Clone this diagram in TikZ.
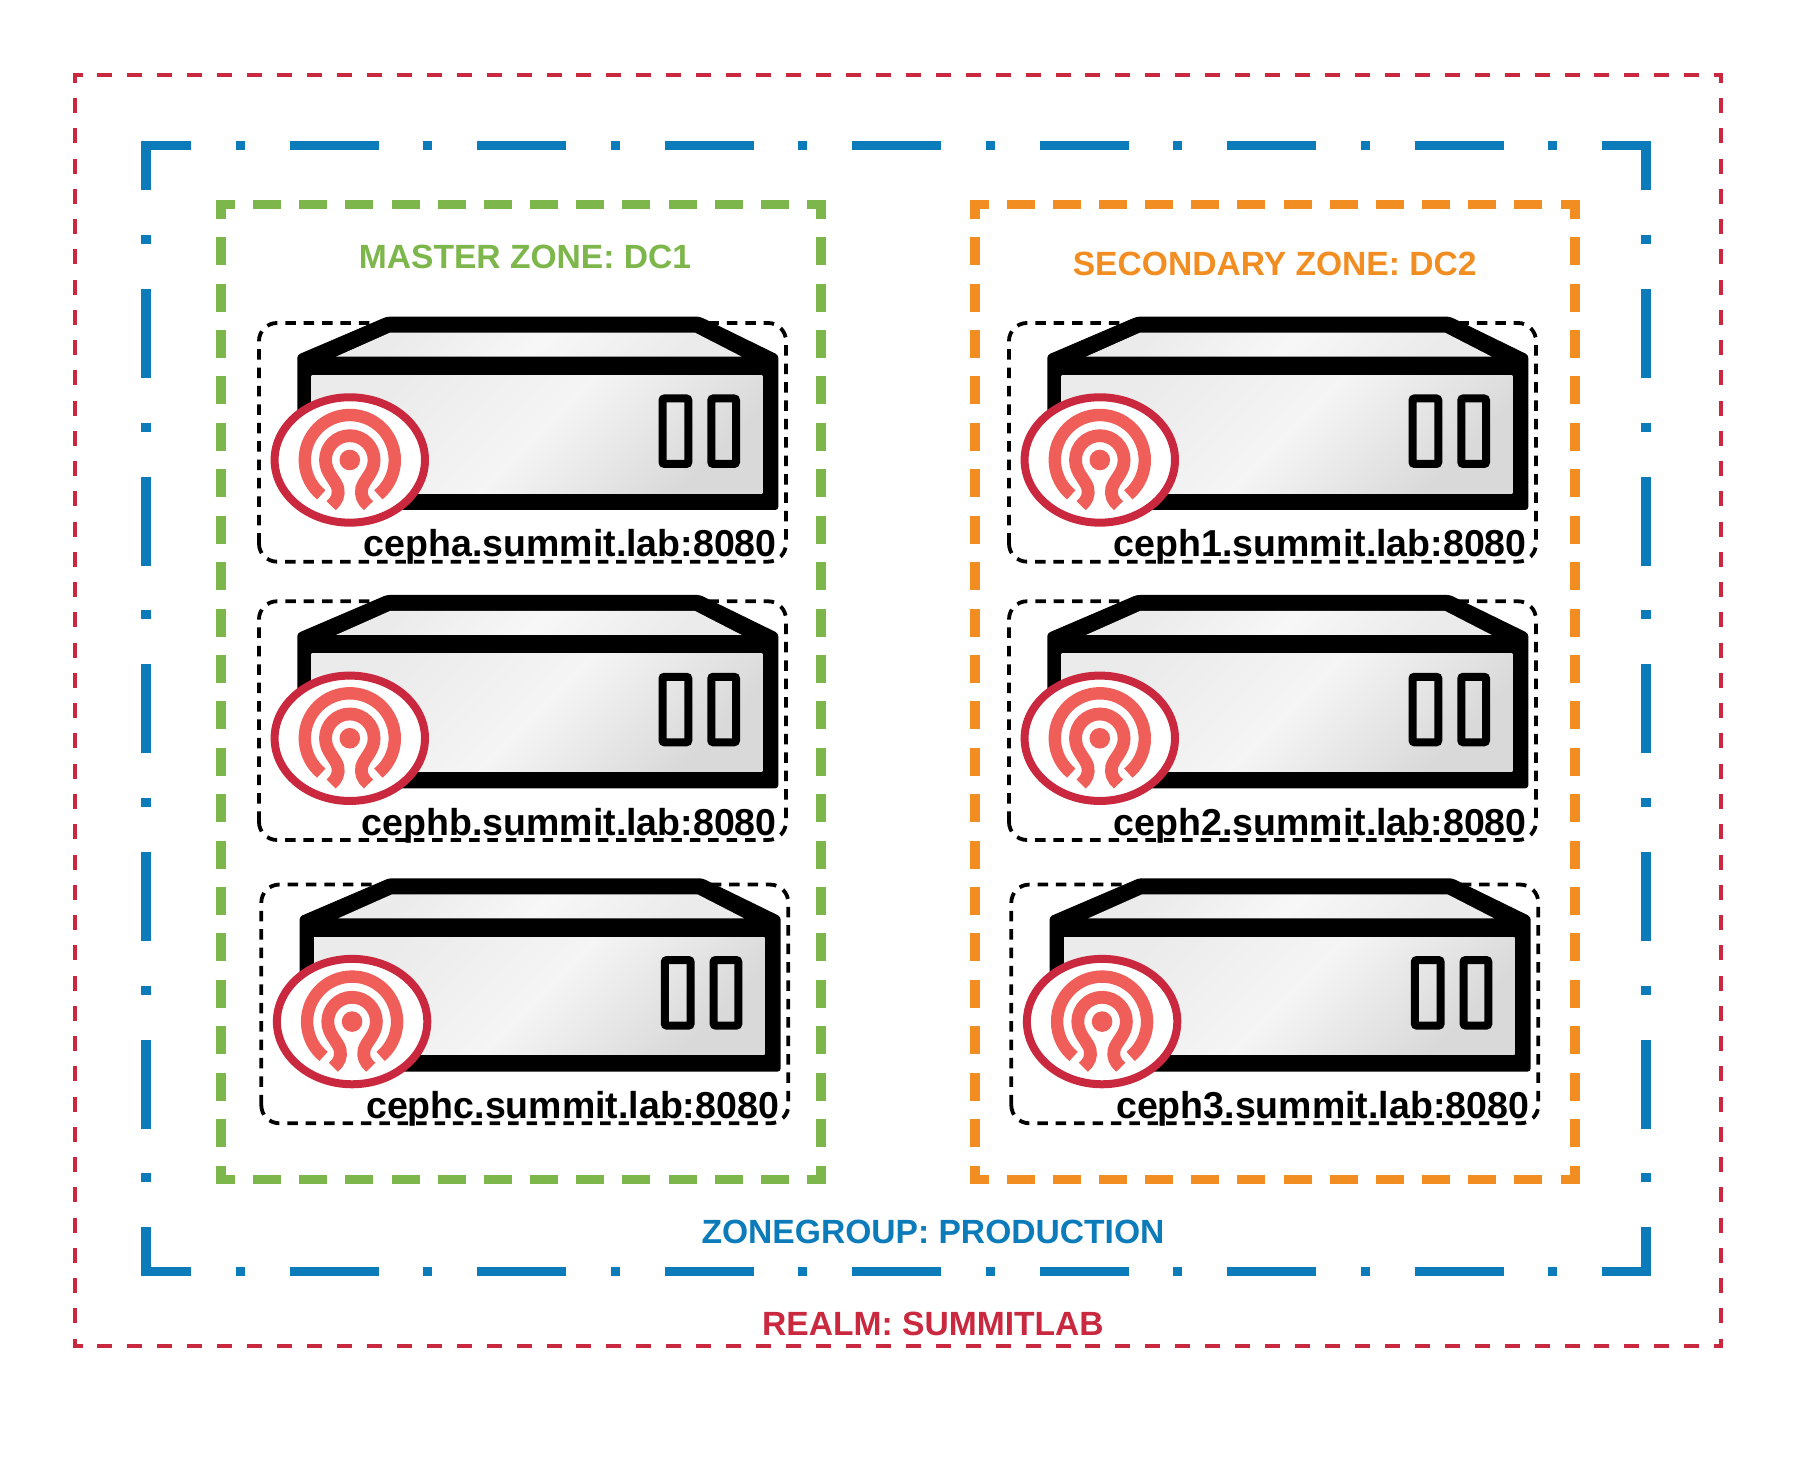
\documentclass[tikz,border=0pt]{standalone}
\usepackage{fontspec}
\setmainfont{Liberation Sans}
\definecolor{realmred}{HTML}{C9283E}
\definecolor{groupblue}{HTML}{0C7BBA}
\definecolor{zonegreen}{HTML}{7DB64A}
\definecolor{zoneorange}{HTML}{F28D22}
\definecolor{cephsalmon}{HTML}{F05E59}
\begin{document}
\begin{tikzpicture}[x=0.5pt,y=0.5pt,
  realmh/.style={realmred,line width=2pt,dash pattern=on 7.5pt off 7.47pt,dash phase=2.75pt},
  realmv/.style={realmred,line width=2pt,dash pattern=on 7.5pt off 7.63pt,dash phase=2.75pt},
  grouph/.style={groupblue,line width=4.5pt,dash pattern=on 44.5pt off 22.4pt on 4.5pt off 22.35pt,dash phase=19.5pt},
  groupv/.style={groupblue,line width=5pt,dash pattern=on 44.5pt off 22.42pt on 4.5pt off 22.41pt,dash phase=19.75pt},
  zoneh/.style={line width=4.5pt,dash pattern=on 14pt off 9.08pt,dash phase=4.5pt},
  zonev/.style={line width=5pt,dash pattern=on 14pt off 9.21pt,dash phase=4.5pt},
  zonelabel/.style={anchor=base,inner sep=0pt,font=\fontsize{16.8}{20}\selectfont\bfseries},
  hostlabel/.style={anchor=base east,inner sep=0pt,font=\fontsize{18.75}{22}\selectfont\bfseries},
  server/.pic={
    \draw[line width=1.9pt,dash pattern=on 5.25pt off 3.95pt,rounded corners=9pt] (0,0) rectangle (527,238.7);
    \fill[rounded corners=1.5pt] (38.3,51.7)--(38.3,206.7)--(127.7,245)--(441,245)--(519.3,206.7)--(519.3,51.7)--cycle;
    \shade[left color=black!8,right color=black!8,middle color=black!3,shading angle=45] (77,205)--(131,229)--(436,229)--(482.7,205)--cycle;
    \shade[left color=black!8,right color=black!15,middle color=black!4,shading angle=45] (52.7,68.4) rectangle (503.3,186);
    \draw[line width=4pt,rounded corners=1pt] (403.5,97.7) rectangle (429.3,163.2);
    \draw[line width=4pt,rounded corners=1pt] (452.3,97.7) rectangle (477,163.2);
    \begin{scope}[shift={(90.8,101.7)}]
      \draw[realmred,fill=white,line width=4pt] (0,0) ellipse [x radius=75.2,y radius=62.7];
      \fill[cephsalmon] (0,0) circle [radius=10.3];
      \draw[cephsalmon,line width=6.2pt] (230.7:45) arc [start angle=230.7,end angle=-50.7,radius=45];
      \draw[cephsalmon,line width=6.4pt] (-18.7,-45.7) .. controls (-13,-41) and (-10.5,-35) .. (-12,-28.3)
        .. controls (-14,-20) and (-24.3,-13) .. (-24.3,0) arc [start angle=180,end angle=0,radius=24.3]
        .. controls (24.3,-13) and (14,-20) .. (12,-28.3) .. controls (10.5,-35) and (13,-41) .. (18.7,-45.7);
    \end{scope}
    \node[hostlabel] (-label) at (518,4.7) {\tikzpictext};
  }]
 \useasboundingbox (0,0) rectangle (1796,1459);
 % realm
 \draw[realmh] (73,1383.7)--(1723,1383.7) (73,112.7)--(1723,112.7);
 \draw[realmv] (75,1385.7)--(75,110.7) (1721,1385.7)--(1721,110.7);
 % zonegroup
 \draw[grouph] (141,1313.7)--(1651,1313.7) (141,187.7)--(1651,187.7);
 \draw[groupv] (146,1318.2)--(146,183.2) (1646,1318.2)--(1646,183.2);
 % zones
 \draw[zoneh,zonegreen] (216,1254.7)--(826,1254.7) (216,279.5)--(826,279.5);
 \draw[zonev,zonegreen] (221,1259.2)--(221,275) (821,1259.2)--(821,275);
 \draw[zoneh,zoneorange] (969.5,1254.7)--(1579.5,1254.7) (969.5,279.5)--(1579.5,279.5);
 \draw[zonev,zoneorange] (974.5,1259.2)--(974.5,275) (1574.5,1259.2)--(1574.5,275);
 % servers
 \pic[pic text={cepha.summit.lab:8080}] (cepha) at (259,897.3) {server};
 \pic[pic text={cephb.summit.lab:8080}] (cephb) at (259,619) {server};
 \pic[pic text={cephc.summit.lab:8080}] (cephc) at (261.3,335.7) {server};
 \pic[pic text={ceph1.summit.lab:8080}] (ceph1) at (1009,897.3) {server};
 \pic[pic text={ceph2.summit.lab:8080}] (ceph2) at (1009,619) {server};
 \pic[pic text={ceph3.summit.lab:8080}] (ceph3) at (1011.3,335.7) {server};
 % labels
 \node[zonelabel,zonegreen] (master) at (525,1190.3) {MASTER ZONE: DC1};
 \node[zonelabel,zoneorange] (secondary) at (1274.7,1183) {SECONDARY ZONE: DC2};
 \node[zonelabel,groupblue] (zonegroup) at (933,215.7) {ZONEGROUP: PRODUCTION};
 \node[zonelabel,realmred] (realm) at (933,123.3) {REALM: SUMMITLAB};
\end{tikzpicture}
\end{document}
